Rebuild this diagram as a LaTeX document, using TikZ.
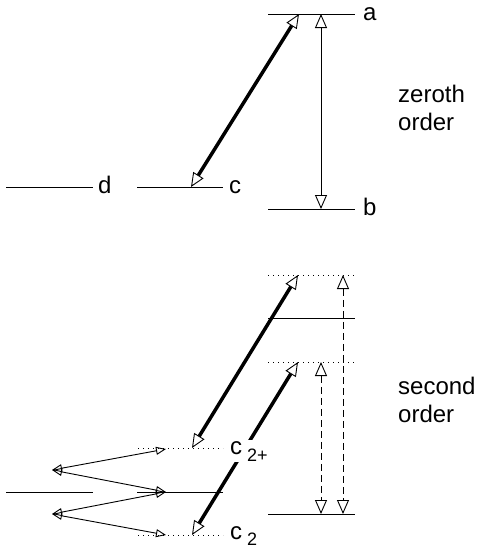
\documentclass[tikz,border=0pt]{standalone}
\usepackage{fontspec}
\setmainfont{Liberation Sans}
\usetikzlibrary{arrows.meta}
\tikzset{
  otri/.tip={Triangle[open,length=14pt,width=12pt,line width=0.9pt]},
  osmall/.tip={Triangle[open,length=10pt,width=8pt,line width=0.9pt]},
}
\begin{document}
\begin{tikzpicture}[x=1pt,y=-1pt,
  level/.style={line width=0.9pt},
  vlevel/.style={line width=0.9pt, dash pattern=on 1pt off 4pt},
  thinarrow/.style={line width=0.9pt, {otri}-{otri}},
  thickarrow/.style={line width=3.5pt, {otri}-{otri}},
  dasharrow/.style={line width=0.9pt, dash pattern=on 7pt off 4pt, {otri}-{otri}},
  smallarrow/.style={line width=0.9pt, {osmall}-{osmall}},
  lab/.style={anchor=base west, inner sep=0pt, font=\fontsize{24}{28}\selectfont},
  sublab/.style={anchor=base west, fill=white, inner sep=1pt, font=\fontsize{24}{28}\selectfont},
]
\useasboundingbox[fill=white] (0,0) rectangle (482,550);
% ---- zeroth order ----
\coordinate (aL) at (268,14);  \coordinate (aR) at (355,14);
\coordinate (bL) at (268,209); \coordinate (bR) at (355,209);
\coordinate (cL) at (137,187); \coordinate (cR) at (223,187);
\coordinate (dL) at (6,187);   \coordinate (dR) at (93,187);
\coordinate (cT) at (191,187); \coordinate (aT) at (299,14);
\coordinate (aV) at (321,14);  \coordinate (bV) at (321,209);
\draw[level] (aL) -- (aR);
\draw[level] (bL) -- (bR);
\draw[level] (cL) -- (cR);
\draw[level] (dL) -- (dR);
\draw[thickarrow] (cT) -- (aT);
\draw[thinarrow] (aV) -- (bV);
\node[lab] (la) at (363,20) {a};
\node[lab] (lb) at (363,215) {b};
\node[lab] (lc) at (229,193) {c};
\node[lab] (ld) at (98,193) {d};
\node[lab] (z1) at (398,102) {zeroth};
\node[lab] (z2) at (398,130) {order};
% ---- second order ----
\coordinate (v1L) at (268,275); \coordinate (v1R) at (355,275);
\coordinate (a2L) at (268,318); \coordinate (a2R) at (355,318);
\coordinate (v2L) at (268,362); \coordinate (v2R) at (355,362);
\coordinate (b2L) at (268,514); \coordinate (b2R) at (355,514);
\coordinate (p1) at (343,275);  \coordinate (q1) at (343,514);
\coordinate (p2) at (321,362);  \coordinate (q2) at (321,514);
\coordinate (t1a) at (298,275); \coordinate (t1b) at (192,448);
\coordinate (t2a) at (298,362); \coordinate (t2b) at (192,535);
\coordinate (cpL) at (138,448); \coordinate (cpR) at (223,448);
\coordinate (c2L) at (137,492); \coordinate (c2R) at (223,492);
\coordinate (d2L) at (6,492);   \coordinate (d2R) at (93,492);
\coordinate (cmL) at (138,535); \coordinate (cmR) at (223,535);
\coordinate (l1) at (52,470);   \coordinate (l2) at (52,514);
\coordinate (r1) at (166,449);  \coordinate (r2) at (166,492);
\coordinate (r3) at (166,535);
\draw[vlevel] (v1L) -- (v1R);
\draw[level]  (a2L) -- (a2R);
\draw[vlevel] (v2L) -- (v2R);
\draw[level]  (b2L) -- (b2R);
\draw[dasharrow] (p1) -- (q1);
\draw[dasharrow] (p2) -- (q2);
\draw[vlevel] (cpL) -- (cpR);
\draw[level]  (c2L) -- (c2R);
\draw[level]  (d2L) -- (d2R);
\draw[vlevel] (cmL) -- (cmR);
\draw[thickarrow] (t1a) -- (t1b);
\draw[thickarrow] (t2a) -- (t2b);
\draw[smallarrow] (l1) -- (r1);
\draw[smallarrow] (l1) -- (r2);
\draw[smallarrow] (l2) -- (r2);
\draw[smallarrow] (l2) -- (r3);
\node[sublab] (lcp) at (229,454) {c\hspace{5pt}\raisebox{-7pt}{\fontsize{18}{20}\selectfont 2+}};
\node[lab] (lcm) at (230,539) {c\hspace{5pt}\raisebox{-6pt}{\fontsize{18}{20}\selectfont 2}};
\node[lab] (s1) at (398,394) {second};
\node[lab] (s2) at (398,422) {order};
\end{tikzpicture}
\end{document}
